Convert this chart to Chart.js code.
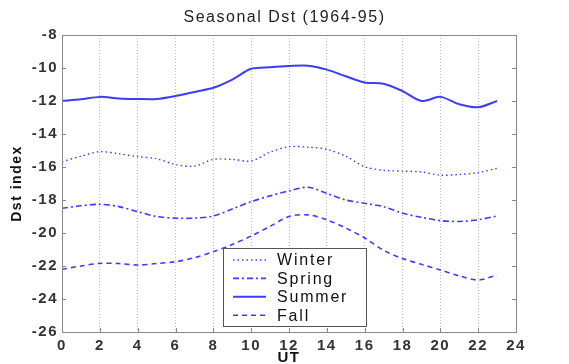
<!DOCTYPE html>
<html>
<head>
<meta charset="utf-8">
<script src="https://cdn.jsdelivr.net/npm/chart.js@4"></script>
<style>
  html, body { margin: 0; padding: 0; background: #fff; }
  #wrap { width: 569px; height: 364px; }
</style>
</head>
<body>
<div id="wrap"><canvas id="mychart" width="569" height="364"></canvas></div>
<script>
'use strict';

const hours = [0,1,2,3,4,5,6,7,8,9,10,11,12,13,14,15,16,17,18,19,20,21,22,23];
const winter = [-15.68,-15.35,-15.07,-15.2,-15.37,-15.5,-15.85,-15.95,-15.54,-15.54,-15.64,-15.1,-14.77,-14.8,-14.93,-15.35,-15.98,-16.2,-16.25,-16.3,-16.5,-16.45,-16.34,-16.08];
const spring = [-18.5,-18.35,-18.26,-18.4,-18.7,-19.0,-19.1,-19.1,-18.97,-18.55,-18.1,-17.75,-17.45,-17.23,-17.6,-18.0,-18.2,-18.4,-18.8,-19.05,-19.25,-19.3,-19.2,-18.97];
const summer = [-12.0,-11.9,-11.75,-11.85,-11.88,-11.88,-11.7,-11.45,-11.2,-10.7,-10.05,-9.95,-9.88,-9.86,-10.1,-10.5,-10.88,-10.95,-11.4,-12.0,-11.75,-12.2,-12.38,-12.0];
const fall = [-22.2,-22.0,-21.84,-21.85,-21.94,-21.85,-21.74,-21.5,-21.13,-20.7,-20.18,-19.6,-19.0,-18.9,-19.2,-19.7,-20.3,-21.05,-21.55,-21.9,-22.24,-22.6,-22.85,-22.55];
const seriesNames = ['Winter', 'Spring', 'Summer', 'Fall'];
const yTicks = [-26,-24,-22,-20,-18,-16,-14,-12,-10,-8];
const xTicks = [0,2,4,6,8,10,12,14,16,18,20,22,24];

const blue = '#3c3cff';
const font = 'Liberation Sans, Arial, sans-serif';

function pts(vals) {
    return vals.map((v, i) => ({x: hours[i], y: v}));
}

// wider letter spacing, like the old matlab export
const spacing = {
    id: 'spacing',
    beforeLayout(chart) { chart.ctx.letterSpacing = '1.5px'; },
    beforeDraw(chart) { chart.ctx.letterSpacing = '1.5px'; },
};

// axes box + small inward ticks
const framePlugin = {
    id: 'frame',
    afterDraw(chart) {
        const {ctx, chartArea: a} = chart;
        const xs = chart.scales.x, ys = chart.scales.y;
        ctx.save();
        ctx.strokeStyle = '#888';
        ctx.lineWidth = 1;
        ctx.strokeRect(a.left + 0.5, a.top + 0.5, a.right - a.left, a.bottom - a.top);
        ctx.beginPath();
        yTicks.forEach(v => {
            const py = Math.round(ys.getPixelForValue(v)) + 0.5;
            ctx.moveTo(a.right - 4, py);
            ctx.lineTo(a.right, py);
            ctx.moveTo(a.left, py);
            ctx.lineTo(a.left + 4, py);
        });
        xTicks.forEach(v => {
            const px = Math.round(xs.getPixelForValue(v)) + 0.5;
            ctx.moveTo(px, a.bottom);
            ctx.lineTo(px, a.bottom - 4);
        });
        ctx.stroke();
        ctx.restore();
    }
};

// legend box inside the plot
const boxLegend = {
    id: 'boxLegend',
    afterDraw(chart) {
        const {ctx} = chart;
        const x0 = 223, y0 = 248, w = 143, h = 78;
        ctx.save();
        ctx.fillStyle = '#fff';
        ctx.fillRect(x0, y0, w, h);
        ctx.strokeStyle = '#555';
        ctx.lineWidth = 1;
        ctx.strokeRect(x0 + 0.5, y0 + 0.5, w, h);
        chart.data.datasets.forEach((ds, i) => {
            const cy = 260 + i * 18.4;
            ctx.beginPath();
            ctx.setLineDash(ds.borderDash || []);
            ctx.strokeStyle = ds.borderColor;
            ctx.lineWidth = ds.borderWidth;
            ctx.moveTo(233, cy);
            ctx.lineTo(266, cy);
            ctx.stroke();
            ctx.setLineDash([]);
            ctx.fillStyle = '#111';
            ctx.font = '16px ' + font;
            ctx.textBaseline = 'middle';
            ctx.letterSpacing = '1.8px';
            ctx.fillText(ds.label, 277, cy + 1);
        });
        ctx.restore();
    }
};

const data = {
    datasets: [
        {label: seriesNames[0], data: pts(winter), borderColor: blue, borderWidth: 1.4, borderDash: [1.5, 3]},
        {label: seriesNames[1], data: pts(spring), borderColor: blue, borderWidth: 1.6, borderDash: [6, 3, 2, 3]},
        {label: seriesNames[2], data: pts(summer), borderColor: blue, borderWidth: 2},
        {label: seriesNames[3], data: pts(fall), borderColor: blue, borderWidth: 1.6, borderDash: [5, 4]},
    ],
};

Chart.defaults.font.family = font;
Chart.defaults.color = '#111';

new Chart(document.getElementById('mychart'), {
    type: 'line',
    data: data,
    options: {
        responsive: false,
        animation: false,
        devicePixelRatio: 1,
        elements: {point: {radius: 0}, line: {tension: 0.3}},
        layout: {padding: 0},
        plugins: {
            legend: {display: false},
            tooltip: {enabled: false},
            title: {
                display: true,
                text: 'Seasonal Dst (1964-95)',
                font: {size: 16, weight: 'normal'},
                color: '#222',
                padding: {top: 8, bottom: 7.8},
            },
        },
        scales: {
            x: {
                type: 'linear',
                min: 0,
                max: 24,
                afterBuildTicks: s => { s.ticks = xTicks.map(v => ({value: v})); },
                afterFit: s => { s.height = 32; },
                grid: {color: '#bdbdbd', drawTicks: false},
                border: {display: false, dash: [1, 2]},
                ticks: {font: {size: 15, weight: 'bold'}, padding: 5, maxRotation: 0, color: '#333'},
                title: {display: true, text: 'UT', font: {size: 15, weight: 'bold'}, padding: {top: 0, bottom: -3}},
            },
            y: {
                min: -26,
                max: -8,
                afterBuildTicks: s => { s.ticks = yTicks.map(v => ({value: v})); },
                afterFit: s => { s.width = 62; },
                grid: {display: false, drawTicks: false},
                border: {display: false},
                ticks: {font: {size: 15, weight: 'bold'}, padding: 4, color: '#333'},
                title: {display: true, text: 'Dst index', font: {size: 14, weight: 'bold'}, padding: {top: 9, bottom: 0}},
            },
            // empty right margin so the title centres over the plot
            yRight: {
                position: 'right',
                min: -26,
                max: -8,
                afterFit: s => { s.width = 53; },
                grid: {display: false, drawTicks: false},
                border: {display: false},
                ticks: {display: false},
            },
        },
    },
    plugins: [spacing, framePlugin, boxLegend],
});
</script>
</body>
</html>
